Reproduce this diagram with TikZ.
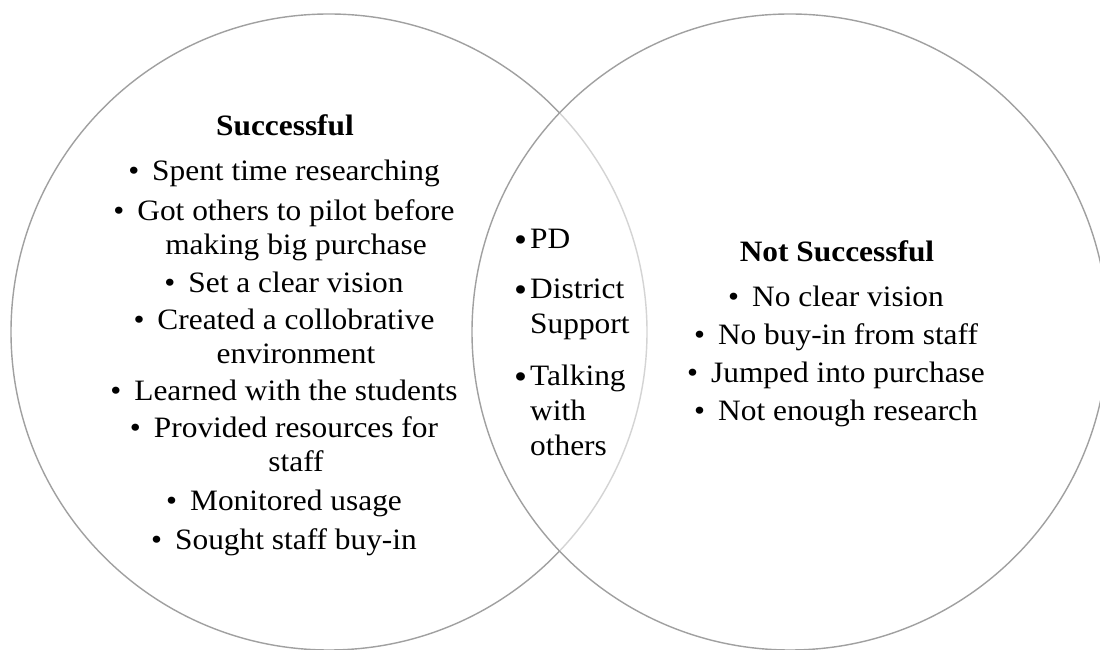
\documentclass[tikz,border=0pt]{standalone}
\usepackage{fontspec}
\setmainfont{Liberation Serif}[FakeStretch=1.06]
\definecolor{ringgray}{HTML}{A0A0A0}
\begin{document}
\begin{tikzpicture}[x=1pt,y=1pt,
  venn/.style={circle, minimum size=636pt, inner sep=0pt, draw=ringgray, line width=1.4pt},
  item/.style={anchor=base, align=center, inner sep=0pt, font=\fontsize{29.6}{34}\selectfont},
  head/.style={item, font=\fontsize{29.6}{34}\selectfont\bfseries},
  mid/.style={anchor=base west, align=left, inner sep=0pt, font=\fontsize{29.6}{35}\selectfont}]
\useasboundingbox (0,0) rectangle (1100,650);
\clip (0,0) rectangle (1100,650);
\fill[white] (0,0) rectangle (1100,650);
\newcommand{\bl}{\llap{\textbullet\hspace{13pt}}}
\newcommand{\bm}{\llap{\raisebox{-2.5pt}{\fontsize{35}{35}\selectfont\textbullet}\hspace{3pt}}}
% circles
\node[venn] (L) at (329,318) {};
\node[venn, fill=white, fill opacity=0.55] (R) at (790,318) {};
% left set (base anchor = last line)
\node[head] (lh) at (285,514) {Successful};
\node[item] (l1) at (296,469) {\bl Spent time researching};
\node[item] (l2) at (296,395) {\bl Got others to pilot before\\making big purchase};
\node[item] (l3) at (296,357) {\bl Set a clear vision};
\node[item] (l4) at (296,286) {\bl Created a collobrative\\environment};
\node[item] (l5) at (296,249) {\bl Learned with the students};
\node[item] (l6) at (296,178) {\bl Provided resources for\\staff};
\node[item] (l7) at (296,139) {\bl Monitored usage};
\node[item] (l8) at (296,100) {\bl Sought staff buy-in};
% middle
\node[mid] (m1) at (530,401) {\bm PD};
\node[mid] (m2) at (530,316) {\bm District\\Support};
\node[mid] (m3) at (530,194) {\bm Talking\\with\\others};
% right set
\node[head] (rh) at (837,388) {Not Successful};
\node[item] (r1) at (848,343) {\bl No clear vision};
\node[item] (r2) at (848,305) {\bl No buy-in from staff};
\node[item] (r3) at (848,267) {\bl Jumped into purchase};
\node[item] (r4) at (848,229) {\bl Not enough research};
\end{tikzpicture}
\end{document}
